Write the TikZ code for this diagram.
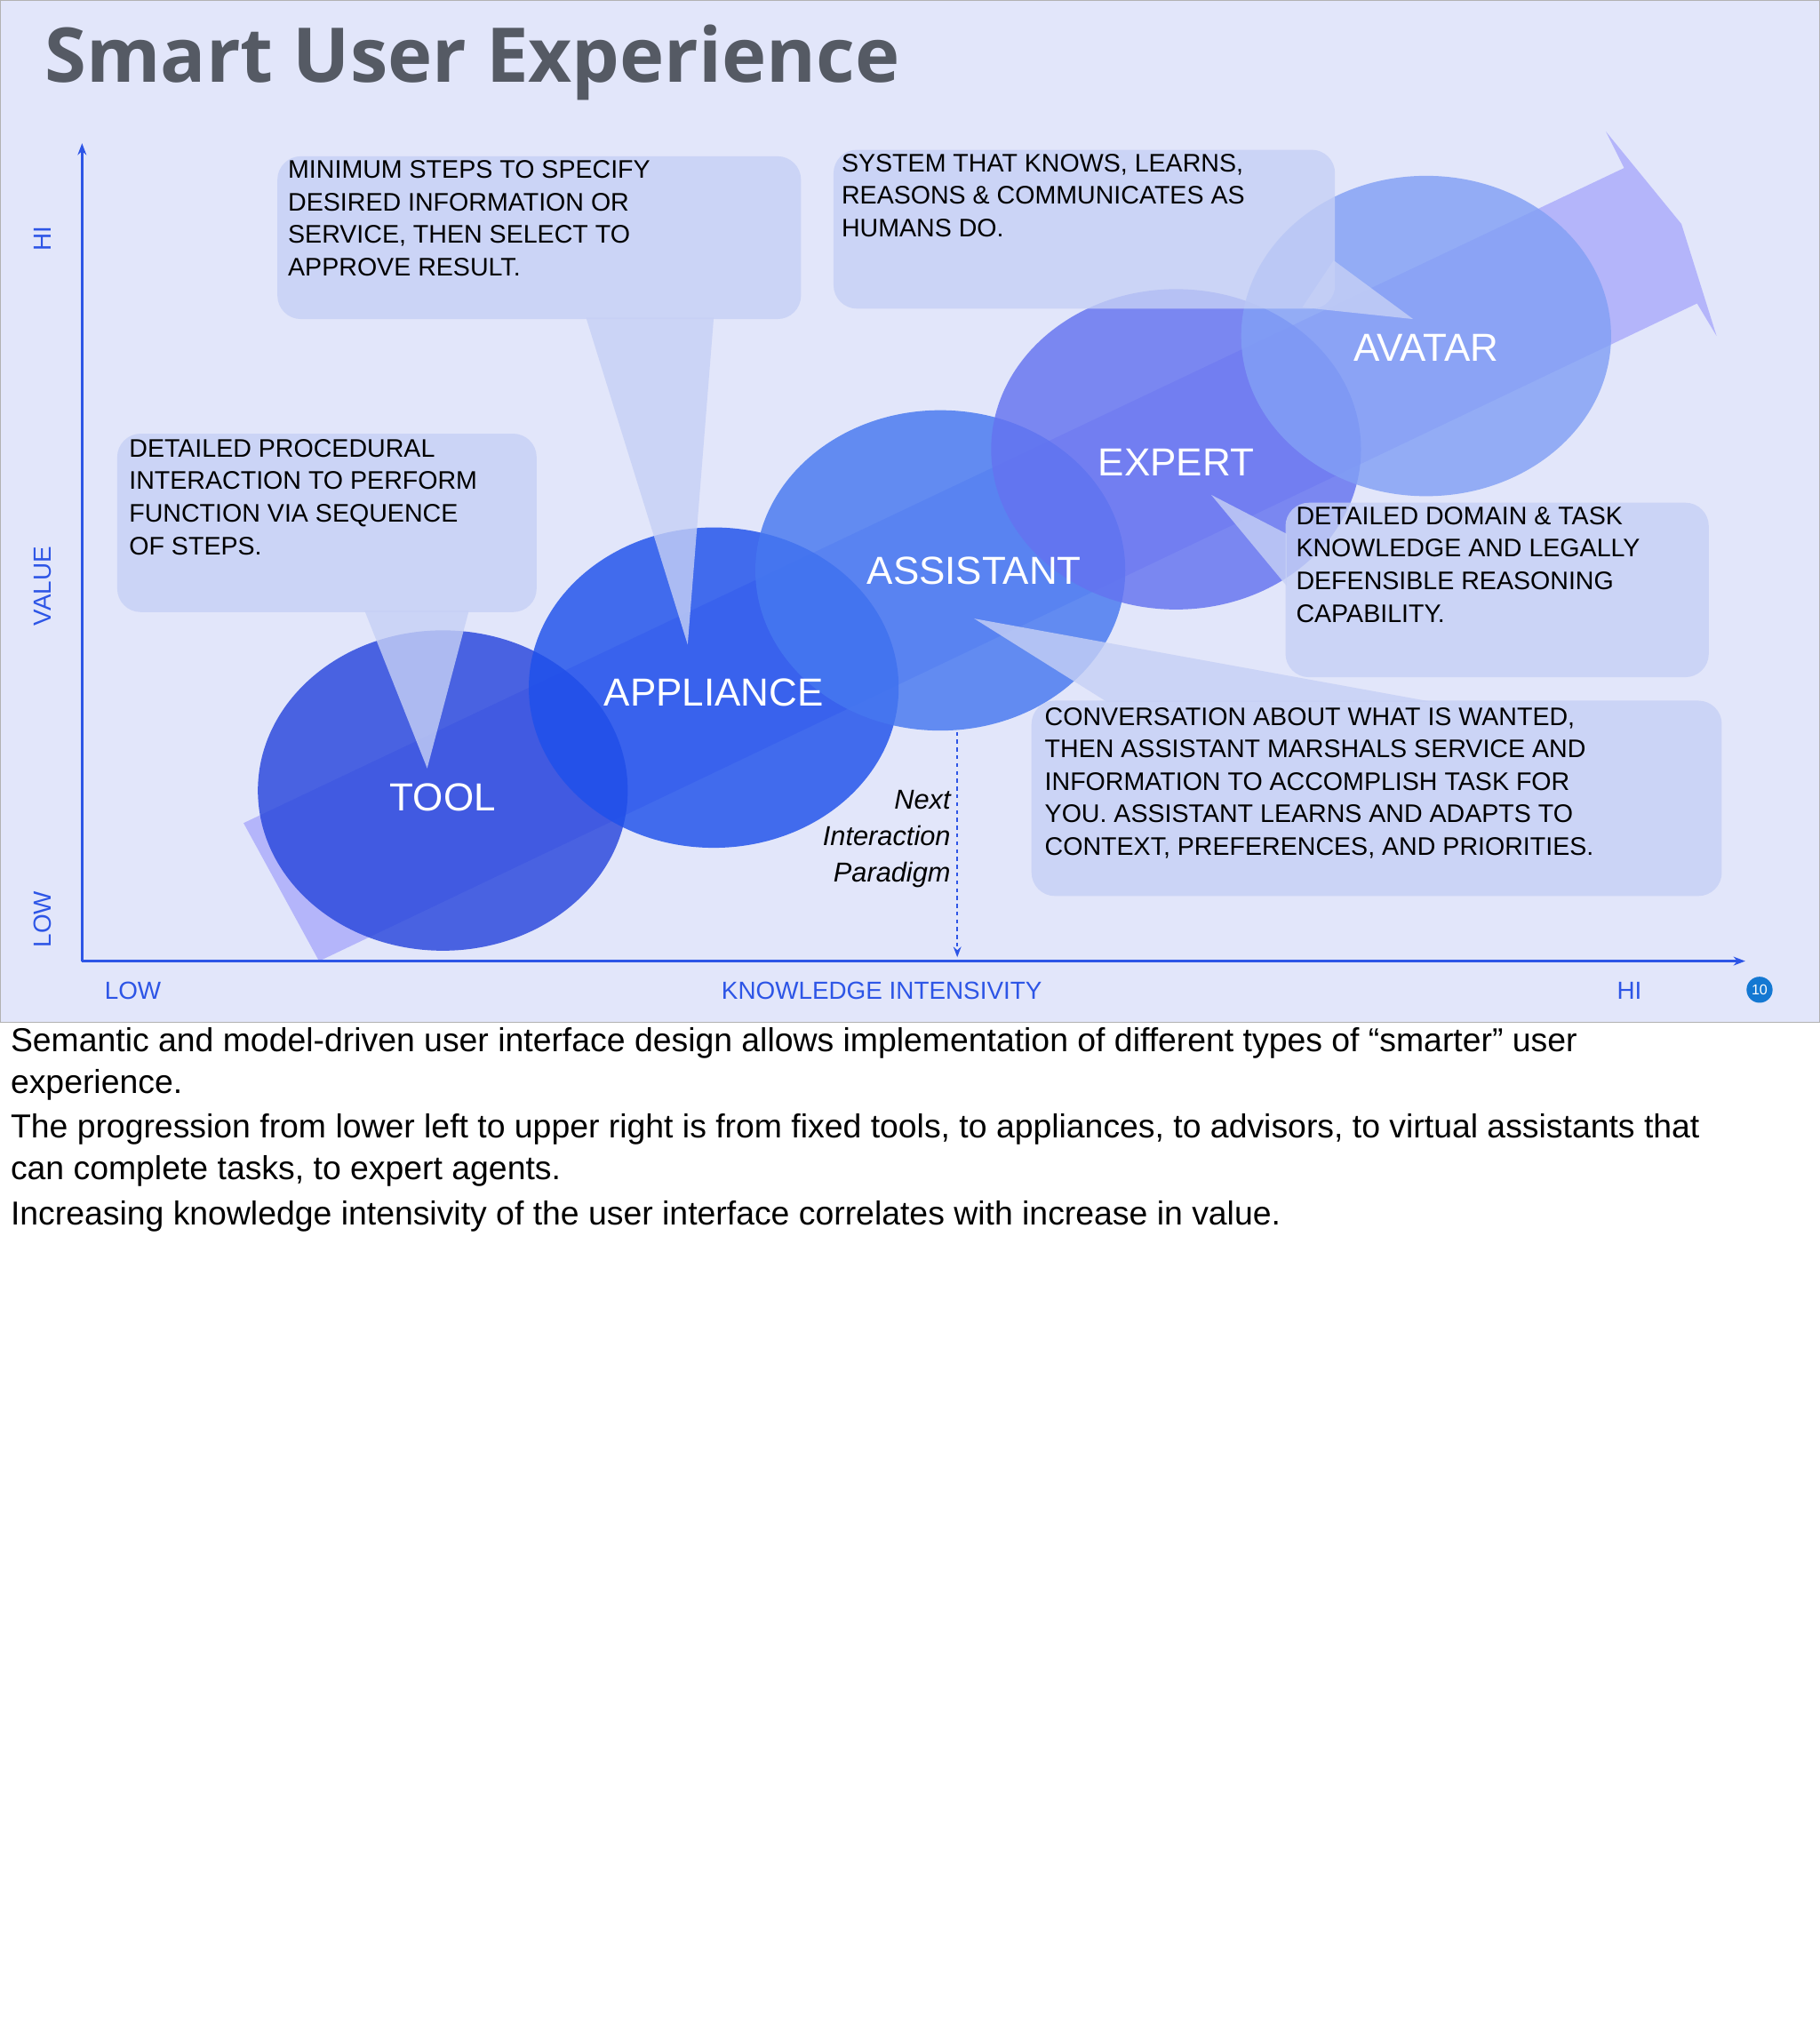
\documentclass[tikz,border=0pt]{standalone}
\usepackage{fontspec}
\setmainfont{Liberation Sans}
\newfontfamily\titlefont{Open Sans}
\usetikzlibrary{arrows.meta}
\definecolor{bg}{RGB}{226,230,250}
\definecolor{axis}{RGB}{45,85,230}
\definecolor{callfill}{RGB}{198,208,245}
\definecolor{ttl}{RGB}{85,90,100}
\definecolor{bigarrow}{RGB}{165,165,250}
\definecolor{ctool}{RGB}{40,70,220}
\definecolor{cappl}{RGB}{30,80,235}
\definecolor{casst}{RGB}{70,120,240}
\definecolor{cexpt}{RGB}{100,115,240}
\definecolor{cavtr}{RGB}{130,160,245}
\definecolor{cpage}{RGB}{20,120,210}
\tikzset{
  bubble/.style={fill=#1,fill opacity=.82,draw=none},
  elabel/.style={text=white,font=\fontsize{30}{30}\selectfont},
  calltext/.style={align=left,anchor=north west,inner sep=0pt,font=\fontsize{19.5}{25}\selectfont},
  callout/.style={fill=callfill,fill opacity=.8,draw=none},
  axlabel/.style={text=axis,font=\fontsize{19}{19}\selectfont},
  bodytext/.style={anchor=north west,align=left,inner sep=0pt,font=\fontsize{25.5}{32}\selectfont}
}
\begin{document}
\begin{tikzpicture}[x=1pt,y=-1pt]
\useasboundingbox (0,0) rectangle (1397,1568);
\fill[white] (0,0) rectangle (1397,1568);
\draw[fill=bg,draw=gray!60] (0,0) rectangle (1397,785);
\node[anchor=west,text=ttl,font=\titlefont\bfseries\fontsize{58}{58}\selectfont] (title) at (31,48) {Smart User Experience};
% big arrow
\fill[fill=bigarrow,fill opacity=.75]
 (187,632) -- (1247,129) -- (1233,101) -- (1291,172) -- (1318,258) -- (1303,233) -- (245,738) -- cycle;
% ellipses
\fill[bubble=ctool] (340,607) ellipse[x radius=142,y radius=123];
\fill[bubble=cappl] (548,528) ellipse[x radius=142,y radius=123];
\fill[bubble=casst] (722,438) ellipse[x radius=142,y radius=123];
\fill[bubble=cexpt] (903,345) ellipse[x radius=142,y radius=123];
\fill[bubble=cavtr] (1095,258) ellipse[x radius=142,y radius=123];
\node[elabel] (tool) at (340,612) {TOOL};
\node[elabel] (appl) at (548,532) {APPLIANCE};
\node[elabel] (asst) at (748,438) {ASSISTANT};
\node[elabel] (expt) at (903,355) {EXPERT};
\node[elabel] (avtr) at (1095,267) {AVATAR};
% callouts
\fill[callout,rounded corners=18] (90,333) rectangle (412,470);
\fill[callout] (280,469) -- (360,469) -- (328,590) -- cycle;
\node[calltext] (c1) at (99,337) {DETAILED PROCEDURAL\\INTERACTION TO PERFORM\\FUNCTION VIA SEQUENCE\\OF STEPS.};
\fill[callout,rounded corners=18] (213,120) rectangle (615,245);
\fill[callout] (450,244) -- (548,244) -- (528,495) -- cycle;
\node[calltext] (c2) at (221,123) {MINIMUM STEPS TO SPECIFY\\DESIRED INFORMATION OR\\SERVICE, THEN SELECT TO\\APPROVE RESULT.};
\fill[callout,rounded corners=18] (640,115) rectangle (1025,237);
\fill[callout] (1000,236) -- (1024,200) -- (1085,245) -- cycle;
\node[calltext] (c3) at (646,118) {SYSTEM THAT KNOWS, LEARNS,\\REASONS \& COMMUNICATES AS\\HUMANS DO.};
\fill[callout,rounded corners=18] (987,386) rectangle (1312,520);
\fill[callout] (988,410) -- (988,450) -- (930,380) -- cycle;
\node[calltext] (c4) at (995,389) {DETAILED DOMAIN \& TASK\\KNOWLEDGE AND LEGALLY\\DEFENSIBLE REASONING\\CAPABILITY.};
\fill[callout,rounded corners=18] (792,538) rectangle (1322,688);
\fill[callout] (850,539) -- (1100,539) -- (748,475) -- cycle;
\node[calltext] (c5) at (802,543) {CONVERSATION ABOUT WHAT IS WANTED,\\THEN ASSISTANT MARSHALS SERVICE AND\\INFORMATION TO ACCOMPLISH TASK FOR\\YOU. ASSISTANT LEARNS AND ADAPTS TO\\CONTEXT, PREFERENCES, AND PRIORITIES.};
% axes
\coordinate (o) at (63,738);
\coordinate (ytop) at (63,110);
\coordinate (xend) at (1340,738);
\draw[axis,line width=1.6pt,-{Stealth[length=9pt]}] (o) -- (ytop);
\draw[axis,line width=1.6pt,-{Stealth[length=9pt]}] (o) -- (xend);
\node[axlabel,rotate=90] (hi1) at (33,183) {HI};
\node[axlabel,rotate=90] (val) at (33,450) {VALUE};
\node[axlabel,rotate=90] (low1) at (33,706) {LOW};
\node[axlabel] (low2) at (102,761) {LOW};
\node[axlabel] (ki) at (677,761) {KNOWLEDGE INTENSIVITY};
\node[axlabel] (hi2) at (1251,761) {HI};
\node[circle,fill=cpage,text=white,inner sep=1pt,minimum size=20pt,font=\fontsize{11}{11}\selectfont] (pg) at (1351,760) {10};
% dashed arrow
\coordinate (dtop) at (735,562);
\coordinate (dbot) at (735,735);
\draw[axis,line width=1.3pt,dashed,-{Stealth[length=8pt]}] (dtop) -- (dbot);
\node[anchor=east,align=right,inner sep=0pt,font=\itshape\fontsize{21}{28}\selectfont] (nip) at (730,644) {Next\\Interaction\\Paradigm};
% body text
\node[bodytext] (b1) at (8,789) {Semantic and model-driven user interface design allows implementation of different types of “smarter” user\\experience.};
\node[bodytext] (b2) at (8,855) {The progression from lower left to upper right is from fixed tools, to appliances, to advisors, to virtual assistants that\\can complete tasks, to expert agents.};
\node[bodytext] (b3) at (8,922) {Increasing knowledge intensivity of the user interface correlates with increase in value.};
\end{tikzpicture}
\end{document}
